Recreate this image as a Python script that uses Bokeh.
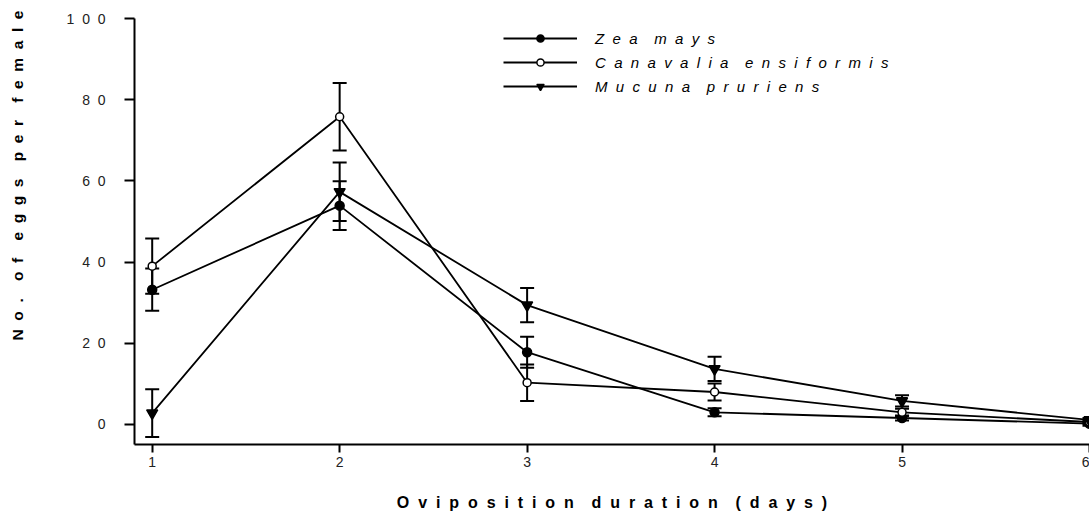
import numpy as np
from bokeh.plotting import figure
from bokeh.models import (ColumnDataSource, Whisker, TeeHead, FixedTicker, Range1d,
                          Legend, LegendItem)
from bokeh.embed import file_html
from bokeh.resources import INLINE

# ---------------- data ----------------
days = [1, 2, 3, 4, 5, 6]
zea_mean = [33.2, 53.9, 17.8, 3.0, 1.6, 0.2]
zea_se = [5.2, 6.0, 3.8, 1.0, 0.6, 0.5]
cana_mean = [39.0, 75.8, 10.3, 8.0, 3.0, 0.6]
cana_se = [6.8, 8.3, 4.5, 2.1, 0.9, 0.5]
muc_mean = [2.8, 57.3, 29.4, 13.7, 5.8, 1.1]
muc_se = [5.9, 7.2, 4.2, 3.0, 1.4, 0.5]
series_names = ["Zea mays", "Canavalia ensiformis", "Mucuna pruriens"]
y_ticks = [0, 20, 40, 60, 80, 100]
x_ticks = [1, 2, 3, 4, 5, 6]
x_title = "Oviposition duration (days)"
y_title = "No. of eggs per female"

FONT = "Liberation Sans"
NB = "\u00a0"
GAP = NB * 2
WORD = NB * 4


def spaced(s):
    return WORD.join(GAP.join(list(w)) for w in s.split(" "))


p = figure(width=1089, height=520, output_backend="svg", toolbar_location=None,
           x_range=Range1d(0.9056, 6.0), y_range=Range1d(-4.93, 100),
           min_border_left=134, min_border_right=0, min_border_top=18,
           min_border_bottom=76)
p.outline_line_color = None
p.grid.visible = False
p.background_fill_color = "white"
p.border_fill_color = "white"

styles = [
    dict(marker="circle", fill="black", size=9),
    dict(marker="circle", fill="white", size=8),
    dict(marker="inverted_triangle", fill="black", size=11),
]
means = [zea_mean, cana_mean, muc_mean]
ses = [zea_se, cana_se, muc_se]

items = []
for name, m, s, st in zip(series_names, means, ses, styles):
    src = ColumnDataSource(dict(
        x=days, y=m,
        upper=[a + b for a, b in zip(m, s)],
        lower=[a - b for a, b in zip(m, s)],
    ))
    w = Whisker(source=src, base="x", upper="upper", lower="lower",
                dimension="height", line_width=2, line_color="black",
                upper_head=TeeHead(size=14, line_width=2, line_color="black"),
                lower_head=TeeHead(size=14, line_width=2, line_color="black"),
                level="underlay")
    p.add_layout(w)
    lr = p.line("x", "y", source=src, line_width=1.8, line_color="black")
    sr = p.scatter("x", "y", source=src, marker=st["marker"], size=st["size"],
                   fill_color=st["fill"], line_color="black", line_width=1.5)
    items.append(LegendItem(label=spaced(name), renderers=[lr, sr]))

legend = Legend(items=items, location=(369, 349), glyph_width=74, glyph_height=18,
                label_height=18, label_standoff=18, spacing=6, padding=0, margin=0,
                border_line_color=None, background_fill_alpha=0,
                label_text_font=FONT, label_text_font_style="italic",
                label_text_font_size="15px", label_text_color="black")
p.add_layout(legend)

# axes
for ax in (p.xaxis[0], p.yaxis[0]):
    ax.axis_line_width = 2
    ax.axis_line_color = "black"
    ax.major_tick_line_width = 2
    ax.major_tick_line_color = "black"
    ax.major_tick_in = 0
    ax.minor_tick_in = 0
    ax.minor_tick_out = 0
    ax.major_label_text_font = FONT
    ax.major_label_text_font_size = "14px"
    ax.major_label_text_color = "#222222"

p.xaxis.ticker = FixedTicker(ticks=x_ticks)
p.xaxis.major_tick_out = 8
p.xaxis.major_label_standoff = 4
p.xaxis.axis_label = spaced(x_title)
p.xaxis.axis_label_text_font = FONT
p.xaxis.axis_label_text_font_style = "bold"
p.xaxis.axis_label_text_font_size = "16px"
p.xaxis.axis_label_text_color = "black"
p.xaxis.axis_label_standoff = 24

p.yaxis.ticker = FixedTicker(ticks=y_ticks)
p.yaxis.major_tick_out = 10
p.yaxis.major_label_standoff = 19
p.yaxis.major_label_overrides = {t: spaced(str(t)) for t in y_ticks}
# leading non-breaking spaces lift the visible title towards the top, as in the reference
p.yaxis.axis_label = NB * 26 + spaced(y_title)
p.yaxis.axis_label_text_font = FONT
p.yaxis.axis_label_text_font_style = "bold"
p.yaxis.axis_label_text_font_size = "15.5px"
p.yaxis.axis_label_text_color = "black"
p.yaxis.axis_label_standoff = 38

open("out.html", "w").write(file_html(p, INLINE))
